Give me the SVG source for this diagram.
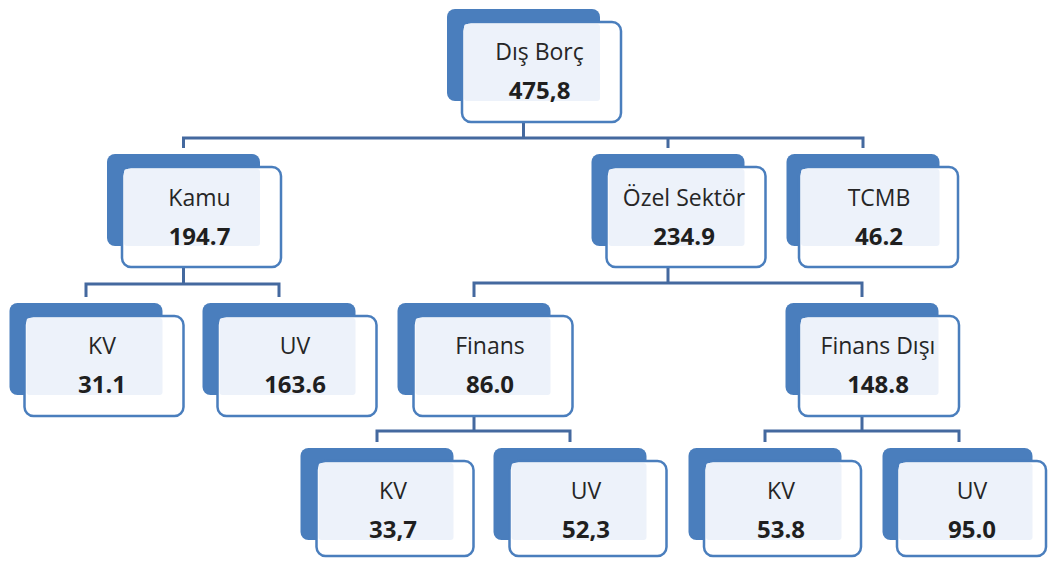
<svg xmlns="http://www.w3.org/2000/svg" width="1049" height="561" viewBox="0 0 1049 561">
<style>
.bk{fill:#4a7ebd}
.fr{fill:#ffffff;stroke:#4a7ebd;stroke-width:2.5}
.in{fill:#edf2fa}
.lb{font-family:"Open Sans","Noto Sans",sans-serif;font-size:23px;fill:#262626;text-anchor:middle}
.vl{font-family:"Open Sans","Noto Sans",sans-serif;font-size:24px;font-weight:bold;fill:#1f1f1f;text-anchor:middle}
.cn{fill:none;stroke:#44699f;stroke-width:3}
</style>
<rect width="1049" height="561" fill="#ffffff"/>
<g id="connectors">
<path class="cn" d="M523.5,122 V138 M183.5,148 V138 H863 V148 M668,138 V148"/>
<path class="cn" d="M183.5,268 V284 M86,297 V284 H279 V297"/>
<path class="cn" d="M668,268 V283 M474,297 V283 H862 V297"/>
<path class="cn" d="M474,416 V431 M377,442 V431 H570 V442"/>
<path class="cn" d="M862,416 V431 M765,442 V431 H959 V442"/>
</g>
<g id="n-dis-borc">
<rect class="bk" x="447" y="9" width="153" height="92" rx="8"/>
<rect class="fr" x="462" y="22" width="159" height="100" rx="9"/>
<rect class="in" x="464" y="24" width="136" height="77" rx="3"/>
<text class="lb" x="539.5" y="60">Dış Borç</text>
<text class="vl" x="539.5" y="99">475,8</text>
</g>
<g id="n-kamu">
<rect class="bk" x="107" y="154" width="153" height="92" rx="8"/>
<rect class="fr" x="122" y="167" width="159" height="100" rx="9"/>
<rect class="in" x="124" y="169" width="136" height="77" rx="3"/>
<text class="lb" x="199.5" y="206">Kamu</text>
<text class="vl" x="199.5" y="245">194.7</text>
</g>
<g id="n-ozel">
<rect class="bk" x="591.5" y="154" width="153" height="92" rx="8"/>
<rect class="fr" x="606.5" y="167" width="159" height="100" rx="9"/>
<rect class="in" x="608.5" y="169" width="136" height="77" rx="3"/>
<text class="lb" x="684" y="206">Özel Sektör</text>
<text class="vl" x="684" y="245">234.9</text>
</g>
<g id="n-tcmb">
<rect class="bk" x="786.5" y="154" width="153" height="92" rx="8"/>
<rect class="fr" x="799" y="167" width="159" height="100" rx="9"/>
<rect class="in" x="801" y="169" width="138.5" height="77" rx="3"/>
<text class="lb" x="879" y="206">TCMB</text>
<text class="vl" x="879" y="245">46.2</text>
</g>
<g id="n-kv1">
<rect class="bk" x="9.5" y="303" width="153" height="92" rx="8"/>
<rect class="fr" x="24.5" y="316" width="159" height="100" rx="9"/>
<rect class="in" x="26.5" y="318" width="136" height="77" rx="3"/>
<text class="lb" x="102" y="354">KV</text>
<text class="vl" x="102" y="393">31.1</text>
</g>
<g id="n-uv1">
<rect class="bk" x="202.5" y="303" width="153" height="92" rx="8"/>
<rect class="fr" x="217.5" y="316" width="159" height="100" rx="9"/>
<rect class="in" x="219.5" y="318" width="136" height="77" rx="3"/>
<text class="lb" x="295" y="354">UV</text>
<text class="vl" x="295" y="393">163.6</text>
</g>
<g id="n-finans">
<rect class="bk" x="397.5" y="303" width="153" height="92" rx="8"/>
<rect class="fr" x="413.5" y="316" width="159" height="100" rx="9"/>
<rect class="in" x="415.5" y="318" width="135" height="77" rx="3"/>
<text class="lb" x="490" y="354">Finans</text>
<text class="vl" x="490" y="393">86.0</text>
</g>
<g id="n-finans-disi">
<rect class="bk" x="785.5" y="303" width="153" height="92" rx="8"/>
<rect class="fr" x="799" y="316" width="160" height="100" rx="9"/>
<rect class="in" x="801" y="318" width="137.5" height="77" rx="3"/>
<text class="lb" x="878" y="354">Finans Dışı</text>
<text class="vl" x="878" y="393">148.8</text>
</g>
<g id="n-kv3">
<rect class="bk" x="300.5" y="448" width="153" height="92" rx="8"/>
<rect class="fr" x="316.5" y="461" width="157" height="95" rx="9"/>
<rect class="in" x="318.5" y="463" width="135" height="77" rx="3"/>
<text class="lb" x="393" y="499">KV</text>
<text class="vl" x="393" y="538">33,7</text>
</g>
<g id="n-uv3">
<rect class="bk" x="493.5" y="448" width="153" height="92" rx="8"/>
<rect class="fr" x="509.5" y="461" width="157" height="95" rx="9"/>
<rect class="in" x="511.5" y="463" width="135" height="77" rx="3"/>
<text class="lb" x="586" y="499">UV</text>
<text class="vl" x="586" y="538">52,3</text>
</g>
<g id="n-kv4">
<rect class="bk" x="688.5" y="448" width="153" height="92" rx="8"/>
<rect class="fr" x="704" y="461" width="157" height="95" rx="9"/>
<rect class="in" x="706" y="463" width="135.5" height="77" rx="3"/>
<text class="lb" x="781" y="499">KV</text>
<text class="vl" x="781" y="538">53.8</text>
</g>
<g id="n-uv4">
<rect class="bk" x="882.5" y="448" width="150" height="92" rx="8"/>
<rect class="fr" x="897" y="461" width="149" height="95" rx="9"/>
<rect class="in" x="899" y="463" width="133.5" height="77" rx="3"/>
<text class="lb" x="972" y="499">UV</text>
<text class="vl" x="972" y="538">95.0</text>
</g>
</svg>
